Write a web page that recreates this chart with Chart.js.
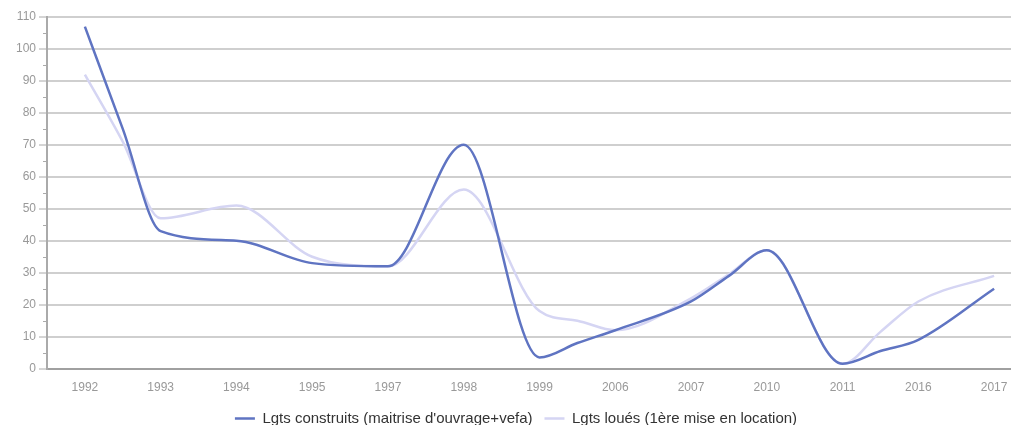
<!DOCTYPE html>
<html>
<head>
<meta charset="utf-8">
<script src="https://cdn.jsdelivr.net/npm/chart.js@4.4.0/dist/chart.umd.min.js"></script>
<style>
  html, body { margin: 0; padding: 0; background: #fff; overflow: hidden; }
  #wrap { width: 1011px; height: 425px; overflow: hidden; }
  #box { width: 1040px; height: 436px; position: relative; }
</style>
</head>
<body>
<div id="wrap"><div id="box"><canvas id="graphique"></canvas></div></div>
<script>
// années affichées sur l'axe
const annees = ["1992", "1993", "1994", "1995", "1997", "1998", "1999", "2006", "2007", "2010", "2011", "2016", "2017"];

// position de chaque point sur l'axe (0 = 1992, 0.5 = entre deux années)
const positions = [0, 0.5, 1, 2, 3, 4, 5, 6, 6.5, 7, 8, 8.5, 9, 10, 10.5, 11, 12];

const construits = [107, 75, 43, 40, 33, 32, 70, 3.5, 8, 12, 21, 29, 37, 1.5, 5.5, 9, 25];
const loues = [92, 71, 47, 51, 35, 32, 56, 18, 15, 12, 22, 29.5, 37, 1.5, 11.5, 21, 29];

const yMax = 110;
const yPas = 5;

function enPoints(serie) {
    return serie.map((v, i) => ({ x: positions[i], y: v }));
}

// petites graduations (5, 15, 25...) plus courtes que les grandes
const petitesGraduations = {
    id: "petitesGraduations",
    afterDraw(chart) {
        const y = chart.scales.y;
        const c = chart.ctx;
        c.save();
        c.strokeStyle = "#aaaaaa";
        c.lineWidth = 1;
        for (let v = 5; v < yMax; v += 10) {
            const py = Math.round(y.getPixelForValue(v)) + 0.5;
            c.beginPath();
            c.moveTo(y.right - 4, py);
            c.lineTo(y.right, py);
            c.stroke();
        }
        c.restore();
    }
};

document.addEventListener("DOMContentLoaded", () => {
    const ctx = document.getElementById("graphique").getContext("2d");
    Chart.defaults.font.family = "'Liberation Sans', Arial, sans-serif";

    new Chart(ctx, {
        type: "line",
        data: {
            datasets: [
                {
                    label: "Lgts construits (maitrise d'ouvrage+vefa)",
                    data: enPoints(construits),
                    borderColor: "#5f74c2",
                    backgroundColor: "#5f74c2",
                    borderWidth: 2.5,
                    pointRadius: 0,
                    cubicInterpolationMode: "monotone",
                    order: 1,
                },
                {
                    label: "Lgts loués (1ère mise en location)",
                    data: enPoints(loues),
                    borderColor: "#d5d5f3",
                    backgroundColor: "#d5d5f3",
                    borderWidth: 2.5,
                    pointRadius: 0,
                    cubicInterpolationMode: "monotone",
                    order: 2,
                },
            ],
        },
        options: {
            responsive: true,
            maintainAspectRatio: false,
            animation: false,
            layout: { padding: { top: 17, left: 0, right: 8, bottom: 0 } },
            scales: {
                x: {
                    type: "linear",
                    min: -0.5,
                    max: annees.length - 0.5,
                    afterBuildTicks: (s) => {
                        s.ticks = annees.map((_, i) => ({ value: i }));
                    },
                    afterFit: (s) => { s.height = s.height - 8; },
                    ticks: {
                        callback: (v) => annees[v] ?? "",
                        color: "#999999",
                        font: { size: 12 },
                        padding: 12,
                        maxRotation: 0,
                        autoSkip: false,
                    },
                    grid: { display: false, drawTicks: false },
                    border: { display: true, color: "#a0a0a0", width: 2 },
                },
                y: {
                    min: 0,
                    max: yMax,
                    afterFit: (s) => { s.width = 47; },
                    ticks: {
                        stepSize: yPas,
                        callback: (v) => (v % 10 === 0 ? v : ""),
                        color: "#999999",
                        font: { size: 12 },
                        padding: 3,
                    },
                    grid: {
                        color: (c) => (c.tick && c.tick.value % 10 === 0 && c.tick.value !== 0 ? "#cfcfcf" : "transparent"),
                        tickColor: (c) => (c.tick && c.tick.value % 10 === 0 ? "#aaaaaa" : "transparent"),
                        lineWidth: 2,
                        tickWidth: 1,
                        tickLength: 8,
                    },
                    border: { display: true, color: "#aaaaaa", width: 2 },
                },
            },
            plugins: {
                legend: {
                    position: "bottom",
                    labels: {
                        usePointStyle: true,
                        pointStyle: "line",
                        pointStyleWidth: 20,
                        color: "#333333",
                        font: { size: 15 },
                        padding: 12,
                    },
                },
                tooltip: { enabled: false },
            },
        },
        plugins: [petitesGraduations],
    });
});
</script>
</body>
</html>
